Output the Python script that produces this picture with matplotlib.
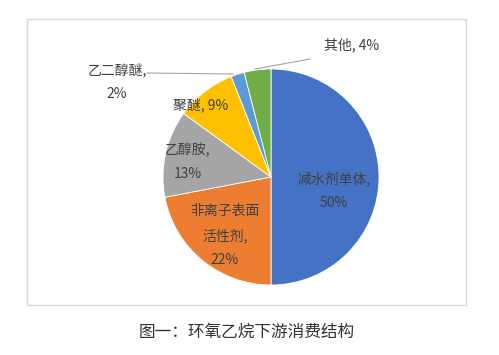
import matplotlib.pyplot as plt
from matplotlib.patches import Rectangle

plt.rcParams["font.family"] = ["Noto Sans CJK SC", "DejaVu Sans"]

categories = ["减水剂单体", "非离子表面活性剂", "乙醇胺", "聚醚", "乙二醇醚", "其他"]
shares = [50, 22, 13, 9, 2, 4]
colors = ["#4472C4", "#ED7D31", "#A5A5A5", "#FFC000", "#5B9BD5", "#70AD47"]
label_texts = ["减水剂单体,\n50%", "非离子表面\n活性剂,\n22%", "乙醇胺,\n13%",
               "聚醚, 9%", "乙二醇醚,\n2%", "其他, 4%"]
caption = "图一：环氧乙烷下游消费结构"

W, H = 499, 355
CX, CY, R = 271, 177, 108


def px(x, y):
    # pixel position (from top-left) -> pie data coords
    return (x - CX) / R, (CY - y) / R


fig = plt.figure(figsize=(W / 100, H / 100), dpi=100)
ax = fig.add_axes([0, 0, 1, 1])

fig.patches.append(Rectangle((27 / W, 1 - 305 / H), (466 - 27) / W, (305 - 19) / H,
                             transform=fig.transFigure, fill=False,
                             edgecolor="#d9d9d9", lw=1))

ax.pie(shares, colors=colors, startangle=90, counterclock=False, radius=1,
       wedgeprops=dict(edgecolor="white", linewidth=0.6))
ax.set_xlim(-CX / R, (W - CX) / R)
ax.set_ylim((CY - H) / R, CY / R)
ax.set_aspect("auto")
ax.axis("off")

label_pos = [(334, 191), (225, 235), (188, 162), (201, 105), (117, 82), (352, 45)]
for txt, (x, y) in zip(label_texts, label_pos):
    ax.text(*px(x, y), txt, ha="center", va="center", fontsize=10,
            color="#404040", linespacing=1.9)

# leader lines
ax.plot(*zip(px(147, 73), px(233, 74)), color="#a6a6a6", lw=0.8)
ax.plot(*zip(px(310, 59), px(255, 69)), color="#a6a6a6", lw=0.8)

ax.text(*px(247, 332), caption, ha="center", va="center", fontsize=12,
        style="italic", color="#333333")

fig.savefig("out.png", dpi=100)
